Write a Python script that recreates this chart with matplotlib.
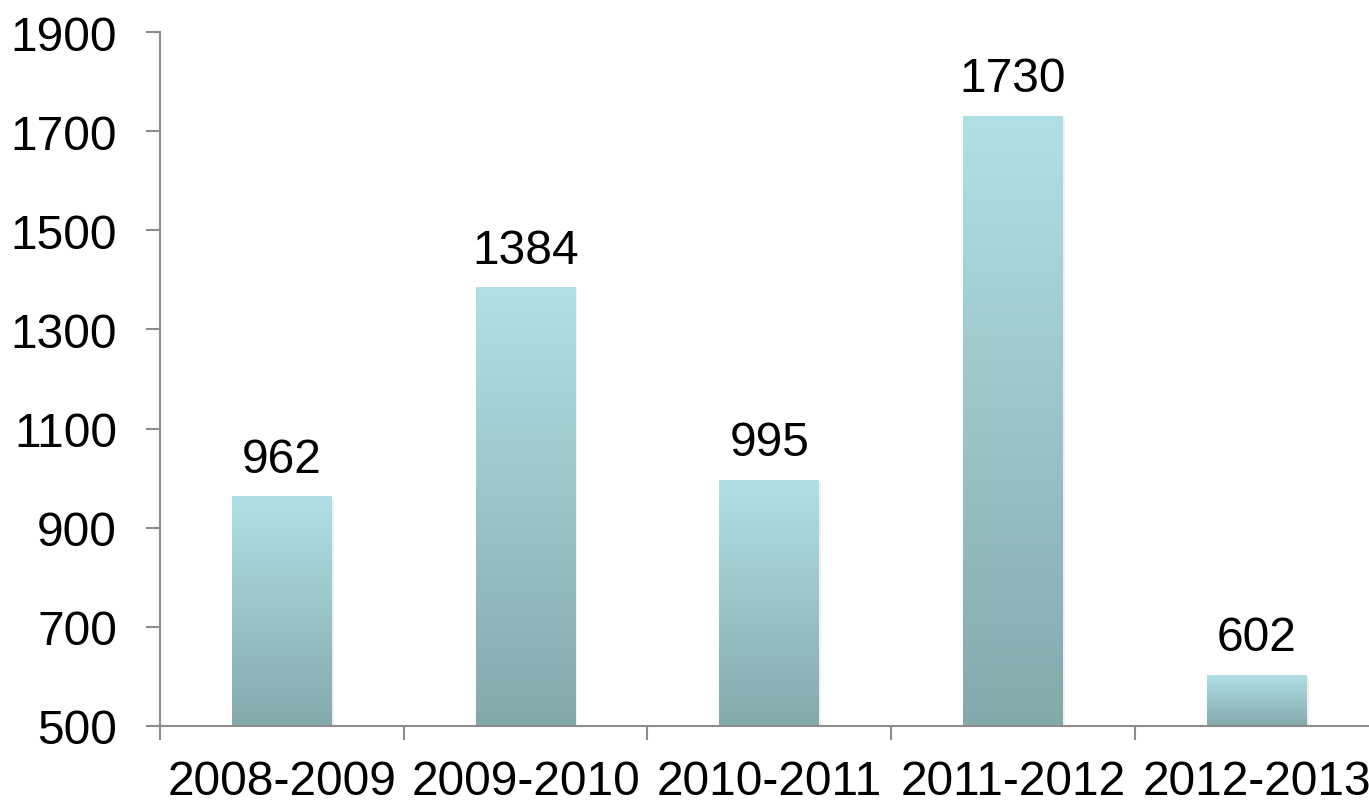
import matplotlib
matplotlib.use("Agg")
import matplotlib.pyplot as plt
import numpy as np
from matplotlib.colors import LinearSegmentedColormap

categories = ["2008-2009", "2009-2010", "2010-2011", "2011-2012", "2012-2013"]
values = [962, 1384, 995, 1730, 602]
yticks = [500, 700, 900, 1100, 1300, 1500, 1700, 1900]

plt.rcParams['font.family'] = ['Liberation Sans', 'DejaVu Sans']

W, H = 1369, 804
fig = plt.figure(figsize=(W / 100, H / 100), dpi=100)
ax = fig.add_axes([160 / W, 77 / H, 1218.5 / W, (771 - 77) / H])

axis_col = '#8c8c8c'
cmap = LinearSegmentedColormap.from_list('g', ['#84a9ab', '#b0e0e5'])
grad = np.linspace(0, 1, 256).reshape(-1, 1)
fs = 34.5

x = np.arange(len(categories))
bw = 0.41
bars = ax.bar(x, [v - 500 for v in values], bottom=500, width=bw, color='none', edgecolor='none')
for b in bars:
    x0, y0 = b.get_x(), b.get_y()
    w, h = b.get_width(), b.get_height()
    # soft shadow
    ax.add_patch(plt.Rectangle((x0 + 0.008, y0), w, h - 3, facecolor='#000000', alpha=0.06,
                               edgecolor='none', zorder=1))
    ax.imshow(grad, cmap=cmap, extent=[x0, x0 + w, y0, y0 + h], origin='lower',
              aspect='auto', zorder=2, interpolation='bicubic')

for xi, v in zip(x, values):
    ax.annotate(str(v), (xi, v), xytext=(0, 11), textcoords='offset points',
                ha='center', va='bottom', fontsize=fs, color='black')

ax.set_xlim(-0.5, 4.5)
ax.set_ylim(500, 1900)
ax.set_yticks(yticks)
ax.set_yticklabels([str(t) for t in yticks])
ax.set_xticks(x)
ax.set_xticklabels(categories)
ax.set_xticks(np.arange(-0.5, 5.0, 1.0), minor=True)

ax.tick_params(axis='y', length=10, width=1.5, color=axis_col, pad=21, labelsize=fs)
ax.tick_params(axis='x', which='major', length=0, pad=24, labelsize=fs)
ax.tick_params(axis='x', which='minor', length=10, width=1.5, color=axis_col)

for s in ['top', 'right']:
    ax.spines[s].set_visible(False)
for s in ['left', 'bottom']:
    ax.spines[s].set_color(axis_col)
    ax.spines[s].set_linewidth(1.5)

fig.savefig('out.png', dpi=100)
